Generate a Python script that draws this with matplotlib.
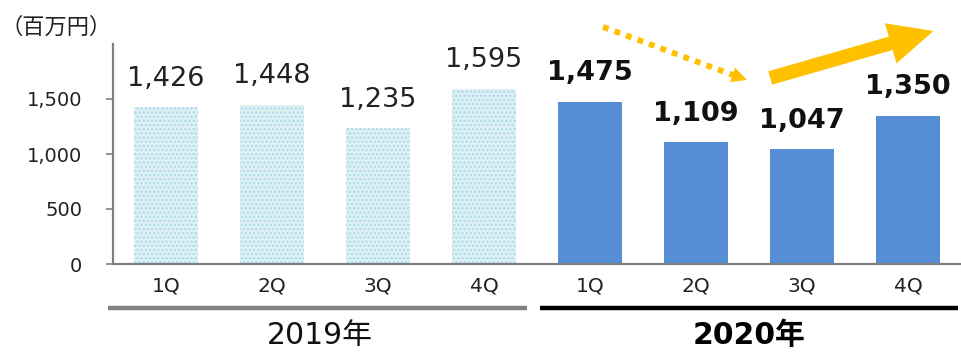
import matplotlib
matplotlib.use("Agg")
import matplotlib.pyplot as plt
import matplotlib.transforms as mtransforms

plt.rcParams['font.family'] = ['DejaVu Sans', 'Noto Sans CJK JP']
plt.rcParams['hatch.linewidth'] = 1.2

quarters = ["1Q", "2Q", "3Q", "4Q", "1Q", "2Q", "3Q", "4Q"]
sales_2019 = [1426, 1448, 1235, 1595]
sales_2020 = [1475, 1109, 1047, 1350]
years = ["2019年", "2020年"]
yticks = [0, 500, 1000, 1500]

fig = plt.figure(figsize=(9.61, 3.52), dpi=100)
W, H = 961, 352
ax = fig.add_axes([113 / W, (H - 264) / H, (961 - 113) / W, 220 / H])

x19 = list(range(4))
x20 = list(range(4, 8))
bw = 0.61
ax.bar(x19, sales_2019, width=bw, facecolor="#e0f1f6", edgecolor="#a8dbe8",
       hatch="....", linewidth=0)
ax.bar(x20, sales_2020, width=bw, color="#558ed5", linewidth=0)

for x, v in zip(x19, sales_2019):
    ax.annotate(f"{v:,}", (x, v), xytext=(0, 11), textcoords="offset points",
                ha="center", va="bottom", fontsize=19.5, color="#222222")
for x, v in zip(x20, sales_2020):
    ax.annotate(f"{v:,}", (x, v), xytext=(0, 11), textcoords="offset points",
                ha="center", va="bottom", fontsize=19.5, fontweight="bold",
                color="#111111")

ax.set_xlim(-0.5, 7.5)
ax.set_ylim(0, 2000)
ax.set_yticks(yticks)
ax.set_yticklabels([f"{t:,}" for t in yticks], fontsize=14, color="#222222")
ax.set_xticks(range(8))
ax.set_xticklabels(quarters, fontsize=14.5, color="#222222")
ax.tick_params(axis="x", length=0, pad=9)
ax.tick_params(axis="y", length=5, width=1.2, color="#808080", pad=17)
for s in ("top", "right"):
    ax.spines[s].set_visible(False)
for s in ("left", "bottom"):
    ax.spines[s].set_color("#808080")
    ax.spines[s].set_linewidth(1.6)

# year group underlines and labels
trans = mtransforms.blended_transform_factory(ax.transData, ax.transAxes)
ax.plot([-0.55, 3.41], [-0.2, -0.2], transform=trans, color="#808080",
        lw=3.2, clip_on=False, solid_capstyle="butt")
ax.plot([3.53, 7.47], [-0.2, -0.2], transform=trans, color="#000000",
        lw=3.2, clip_on=False, solid_capstyle="butt")
ax.text(1.45, -0.325, years[0], transform=trans, ha="center", va="center",
        fontsize=21.5, color="#111111")
ax.text(5.5, -0.325, years[1], transform=trans, ha="center", va="center",
        fontsize=21.5, fontweight="bold", color="#000000")

# unit label
fig.text(0 / W, 1 - 27 / H, "（百万円）", fontsize=16, va="center", ha="left",
         family=["Noto Sans CJK JP"], color="#222222")

# trend arrows: dotted decline, solid recovery
ax.plot([4.123, 5.349], [2155, 1718], color="#ffc000", lw=4.2,
        linestyle=(0, (1, 1.1)), dash_capstyle="butt", clip_on=False)
ax.annotate("", xy=(5.481, 1673), xytext=(5.349, 1718), annotation_clip=False,
            arrowprops=dict(arrowstyle="-|>,head_length=1.1,head_width=0.55",
                            color="#ffc000", lw=0, shrinkA=0, shrinkB=0))
ax.annotate("", xy=(7.24, 2118), xytext=(5.70, 1691), annotation_clip=False,
            arrowprops=dict(arrowstyle="simple,head_length=1.6,head_width=1.5,tail_width=0.5",
                            color="#ffc000", lw=0, shrinkA=0, shrinkB=0,
                            mutation_scale=20))

fig.savefig("out.png", dpi=100)
